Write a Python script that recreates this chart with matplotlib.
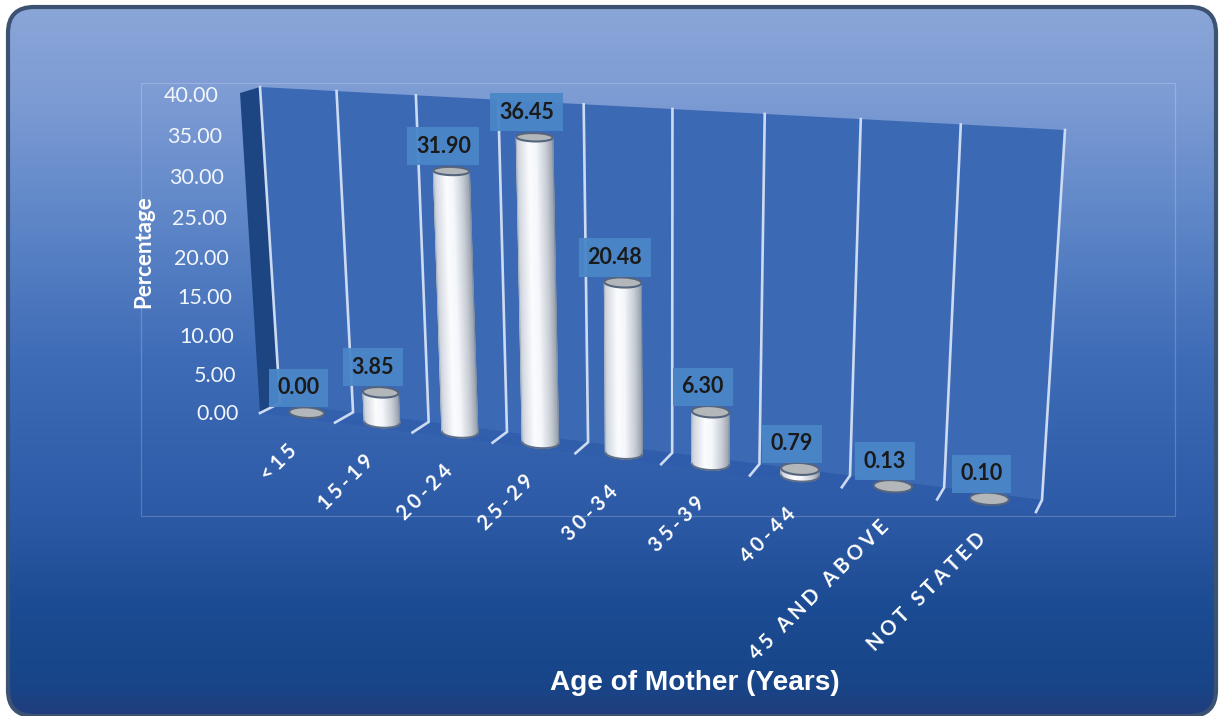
import numpy as np
import matplotlib
matplotlib.use('Agg')
import matplotlib.pyplot as plt
from matplotlib.colors import LinearSegmentedColormap
from matplotlib.patches import FancyBboxPatch, Polygon, Rectangle

# data
ages = ['<15', '15-19', '20-24', '25-29', '30-34', '35-39', '40-44', '45 AND ABOVE', 'NOT STATED']
pct = [0.00, 3.85, 31.90, 36.45, 20.48, 6.30, 0.79, 0.13, 0.10]
yticks = [0, 5, 10, 15, 20, 25, 30, 35, 40]
ymax = 40
n = len(ages)

W, H = 1220, 716
plt.rcParams['font.family'] = ['Lato', 'DejaVu Sans']


def homography(src, dst):
    """4点対応から射影変換を作る"""
    A, b = [], []
    for (x, y), (u, v) in zip(src, dst):
        A.append([x, y, 1, 0, 0, 0, -u * x, -u * y])
        A.append([0, 0, 0, x, y, 1, -v * x, -v * y])
        b += [u, v]
    h = np.linalg.solve(np.array(A, float), np.array(b, float))
    return np.append(h, 1).reshape(3, 3)


corners = [(0, 0), (n, 0), (0, ymax), (n, ymax)]
H_back = homography(corners, [(280, 403), (1042, 500), (260, 87), (1065, 130)])
H_front = homography(corners, [(260, 413), (1036, 512), (240, 93), (1059, 141)])


def project(i, v, d=0.0):
    """カテゴリ位置 i, 値 v, 奥行き d (0=壁, 1=手前) を画面座標へ"""
    p = np.array([i, v, 1.0])
    a = H_back @ p
    b = H_front @ p
    return (1 - d) * a[:2] / a[2] + d * b[:2] / b[2]


def disk(i, v):
    """円柱の断面: 中心, 長軸の向き, 短半径"""
    c = project(i, v, 0.5)
    u = project(i + 0.2, v, 0.5) - project(i - 0.2, v, 0.5)
    u[1] *= 0.35  # 傾きは控えめに
    u = u / np.linalg.norm(u)
    ry = abs(project(i, v, 0.95)[1] - project(i, v, 0.05)[1]) / 2 * 1.15
    return c, u, ry


fig = plt.figure(figsize=(W / 100, H / 100), dpi=100)
ax = fig.add_axes([0, 0, 1, 1])
ax.axis('off')

# 背景
bg_cmap = LinearSegmentedColormap.from_list('bg', [
    (0.00, '#8ba6d8'), (0.13, '#7e9cd4'), (0.30, '#5f87c8'), (0.50, '#3f6cb7'),
    (0.72, '#2d5aa6'), (0.85, '#1b4b92'), (0.96, '#184588'), (1.00, '#203d7c')])
frame = FancyBboxPatch((8, 7), W - 12, H - 7, boxstyle='round,pad=0,rounding_size=26',
                       fc='none', ec='#3c5273', lw=3.0, zorder=2, transform=ax.transData)
ax.add_patch(frame)
im = ax.imshow(np.linspace(0, 1, 256)[:, None], cmap=bg_cmap, extent=(0, W, H, 0),
               aspect='auto', zorder=1, vmin=0, vmax=1)
im.set_clip_path(frame)

# プロットエリアの枠
ax.add_patch(Rectangle((141, 83), 1034, 433, fc='none', ec='#ffffff', alpha=0.2, lw=0.9, zorder=2))

# 側壁・床・背面
ax.add_patch(Polygon([project(0, 0, 0), project(0, ymax, 0), project(0, ymax, 1), project(0, 0, 1)],
                     fc='#1d4582', ec='none', zorder=3))
ax.add_patch(Polygon([project(0, ymax, 0), project(n, ymax, 0), project(n, 0, 0), project(0, 0, 0)],
                     fc='#3c69b4', ec='none', zorder=3))
ax.add_patch(Polygon([project(0, 0, 0), project(n, 0, 0), project(n, 0, 1), project(0, 0, 1)],
                     fc='#2f5cab', ec='none', alpha=0.55, zorder=3))

# グリッド線
for i in range(n + 1):
    pts = np.array([project(i, ymax, 0), project(i, 0, 0), project(i, 0, 1)])
    ax.plot(pts[:, 0], pts[:, 1], color='#cddbf2', lw=1.9, solid_joinstyle='miter', zorder=4)

# 円柱
body_cmap = LinearSegmentedColormap.from_list('body', [
    (0.00, '#c3cad4'), (0.10, '#d9dee6'), (0.35, '#fbfcfe'), (0.55, '#f4f7fb'),
    (0.82, '#c9ced6'), (1.00, '#9aa3b0')])
for k, val in enumerate(pct):
    i = k + 0.5
    rx = 17.5 + 0.25 * k
    s = np.linspace(-1, 1, 61)
    c0, u0, ry0 = disk(i, 0)
    c1, u1, ry1 = disk(i, val)
    if val > 0.5:
        bot = c0 + np.outer(rx * s, u0) + np.outer(ry0 * np.sqrt(1 - s ** 2), [0, 1])
        top = c1 + np.outer(rx * s, u1) + np.outer(ry1 * np.sqrt(1 - s ** 2), [0, 1])
        X = np.vstack([top[:, 0], bot[:, 0]])
        Y = np.vstack([top[:, 1], bot[:, 1]])
        ax.pcolormesh(X, Y, np.vstack([s, s]) / 2 + 0.5, cmap=body_cmap, vmin=0, vmax=1,
                      shading='gouraud', zorder=5 + k)
        ax.plot(bot[:, 0], bot[:, 1], color='#5d6d85', lw=1.4, zorder=5 + k)
        ax.plot([top[0, 0], bot[0, 0]], [top[0, 1], bot[0, 1]], color='#a3aebd', lw=0.6, zorder=5 + k)
        ax.plot([top[-1, 0], bot[-1, 0]], [top[-1, 1], bot[-1, 1]], color='#7f8da1', lw=0.8, zorder=5 + k)
    t = np.linspace(0, 2 * np.pi, 80)
    ring = c1 + np.outer(rx * np.cos(t), u1) + np.outer(ry1 * np.sin(t), [0, 1])
    ax.add_patch(Polygon(ring, fc='#b4b7ba', ec='#55657d', lw=1.5, zorder=5 + k + 0.5))

# データラベル
for k, val in enumerate(pct):
    p = project(k + 0.5, val, 0.5)
    ax.text(p[0] - 8, p[1] - 25, f'{val:.2f}', ha='center', va='center', fontsize=15.5, fontweight='bold',
            color='#1a1a1a', zorder=30,
            bbox=dict(boxstyle='square,pad=0.4', fc='#4a86c8', ec='none', alpha=0.95))

# 目盛りラベル
for v in yticks:
    p = project(0, v, 1)
    ax.text(p[0] - 21, p[1] + 1 + v * 0.04, f'{v:.2f}', ha='right', va='center', fontsize=15.5,
            color='#f2f6fc', zorder=20)

# カテゴリラベル
for k, lab in enumerate(ages):
    p = project(k + 0.5, 0, 1)
    ax.text(p[0] - 3, p[1] + 30, '\u2009\u200a'.join(lab), rotation=45, rotation_mode='anchor', ha='right', va='center',
            fontsize=14.5, fontweight='bold', color='white', zorder=20)

ax.text(144, 251.5, 'Percentage', rotation=90, ha='center', va='center', fontsize=16, fontweight='bold',
        color='white', zorder=20)
ax.text(695, 683, 'Age of Mother (Years)', ha='center', va='center', fontsize=20.2, fontweight='bold',
        family=['Liberation Sans'], color='white', zorder=20)

ax.set_xlim(0, W)
ax.set_ylim(H, 0)
fig.savefig('out.png', dpi=100, facecolor='white')
